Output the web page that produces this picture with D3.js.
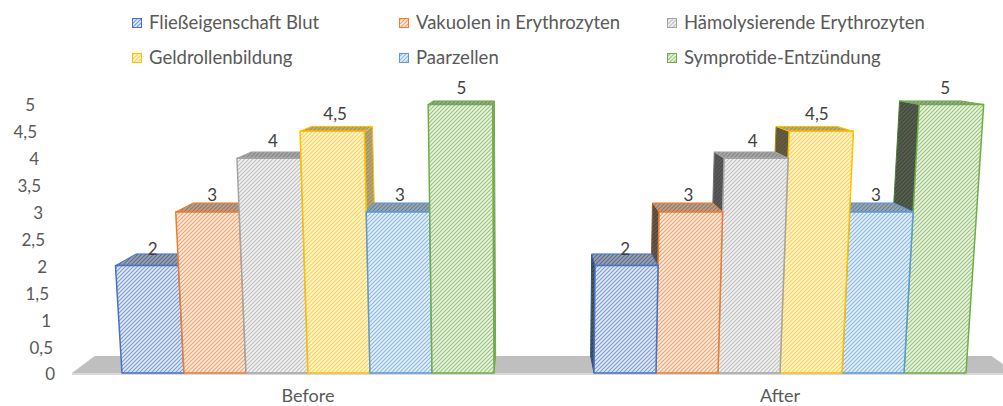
<!DOCTYPE html>
<html><head><meta charset="utf-8">
<script src="https://cdn.jsdelivr.net/npm/d3@7"></script>
<style>
body{margin:0;background:#fff}
text{font-family:Lato,"Open Sans",sans-serif}
</style></head><body>
<script>
// chart data
const groups = ["Before", "After"];
const series = ["Fließeigenschaft Blut", "Vakuolen in Erythrozyten", "Hämolysierende Erythrozyten",
                "Geldrollenbildung", "Paarzellen", "Symprotide-Entzündung"];
const colors = ["#4472C4", "#ED7D31", "#A5A5A5", "#FFC000", "#5B9BD5", "#70AD47"];
const valuesBefore = [2, 3, 4, 4.5, 3, 5];
const valuesAfter = [2, 3, 4, 4.5, 3, 5];
const tickValues = [0, 0.5, 1, 1.5, 2, 2.5, 3, 3.5, 4, 4.5, 5];

const width = 1003, height = 406;
const de = d3.formatLocale({decimal: ",", thousands: ".", grouping: [3], currency: ["", " €"]});
const fmt = de.format("~g");

const svg = d3.select("body").append("svg")
  .attr("width", width).attr("height", height);

// scales (front plane)
const x = d3.scaleBand().domain(groups).range([72, 1016]);
const xs = d3.scaleBand().domain(series).range([50, 422]);
const y = d3.scaleLinear().domain([0, 5]).range([373, 104.5]);
const yAxisScale = d3.scaleLinear().domain([0, 5]).range([375, 106]);

// simple perspective: keystone for camera tilt + depth toward a vanishing point
const ox = 527, yh = 33, depthK = 0.05, keystone = 0.00015, base = 373;
function proj(px, v, z) {
  const y0 = y(v);
  const sx = ox + (px - ox) * (1 + keystone * (base - y0));
  const f = 1 - depthK * z;
  return [ox + (sx - ox) * f, yh + (y0 - yh) * f];
}
const poly = pts => "M" + pts.map(p => p.join(",")).join("L") + "Z";

// hatch patterns
const defs = svg.append("defs");
colors.forEach((c, i) => {
  const p = defs.append("pattern").attr("id", "hatch" + i)
    .attr("patternUnits", "userSpaceOnUse").attr("width", 4).attr("height", 4);
  p.append("rect").attr("width", 4).attr("height", 4)
    .attr("fill", d3.interpolateRgb("#fff", c)(0.15));
  p.append("path").attr("d", "M-1,1L1,-1M0,4L4,0M3,5L5,3")
    .attr("stroke", d3.interpolateRgb("#fff", c)(0.7)).attr("stroke-width", 1.2);
});

// floor
svg.append("path")
  .attr("d", poly([proj(x.range()[0], 0, 0), proj(x.range()[1], 0, 0), proj(x.range()[1], 0, 1), proj(x.range()[0], 0, 1)]))
  .attr("fill", "#bfbfbf");
svg.append("rect").attr("x", x.range()[0]).attr("y", base).attr("width", width).attr("height", 2)
  .attr("fill", "#d9d9d9");

// bars
const bars = [];
groups.forEach((g, gi) => {
  const vals = gi === 0 ? valuesBefore : valuesAfter;
  series.forEach((s, si) => {
    const x0 = x(g) + xs(s), x1 = x0 + xs.bandwidth();
    bars.push({g, s, si, v: vals[si], x0, x1});
  });
});
bars.sort((a, b) => Math.abs((b.x0 + b.x1) / 2 - ox) - Math.abs((a.x0 + a.x1) / 2 - ox));

bars.forEach(d => {
  const c = colors[d.si];
  const fill = "url(#hatch" + d.si + ")";
  const gBar = svg.append("g");
  const faces = [];
  if (d.x1 < ox) faces.push({pts: [proj(d.x1, 0, 0), proj(d.x1, d.v, 0), proj(d.x1, d.v, 1), proj(d.x1, 0, 1)], shade: 0.32});
  if (d.x0 > ox) faces.push({pts: [proj(d.x0, 0, 0), proj(d.x0, d.v, 0), proj(d.x0, d.v, 1), proj(d.x0, 0, 1)], shade: 0.62});
  faces.push({pts: [proj(d.x0, d.v, 0), proj(d.x1, d.v, 0), proj(d.x1, d.v, 1), proj(d.x0, d.v, 1)], shade: 0.3});
  faces.push({pts: [proj(d.x0, 0, 0), proj(d.x1, 0, 0), proj(d.x1, d.v, 0), proj(d.x0, d.v, 0)], shade: 0});
  faces.forEach(f => {
    gBar.append("path").attr("d", poly(f.pts)).attr("fill", fill);
    if (f.shade > 0)
      gBar.append("path").attr("d", poly(f.pts)).attr("fill", "#000").attr("fill-opacity", f.shade);
    gBar.append("path").attr("d", poly(f.pts)).attr("fill", "none")
      .attr("stroke", f.shade > 0.5 ? d3.color(c).darker(1) : c)
      .attr("stroke-width", f.shade === 0 ? 1.5 : 1).attr("stroke-linejoin", "round");
  });
});

// data labels
bars.forEach(d => {
  const cx = (d.x0 + d.x1) / 2;
  const p = proj(cx, d.v, 0.3);
  svg.append("text").attr("x", p[0]).attr("y", y(d.v) - 11)
    .attr("text-anchor", "middle").attr("font-size", 17).attr("fill", "#404040")
    .text(fmt(d.v));
});

// value axis (on the slanted side wall)
const yAxis = svg.append("g").attr("class", "y-axis")
  .call(d3.axisLeft(yAxisScale).tickValues(tickValues).tickFormat(fmt).tickSize(0).tickPadding(0));
yAxis.select(".domain").remove();
yAxis.selectAll(".tick")
  .attr("transform", t => "translate(" + (55 - 20 * (375 - yAxisScale(t)) / 269) + "," + yAxisScale(t) + ")");
yAxis.selectAll("text").attr("font-size", 17).attr("fill", "#595959").attr("font-family", null);

// category axis
const xAxis = svg.append("g").attr("transform", "translate(0,389)")
  .call(d3.axisBottom(x).tickSize(0).tickPadding(0));
xAxis.select(".domain").remove();
xAxis.selectAll("text").attr("font-size", 18).attr("fill", "#595959").attr("font-family", null);

// legend
const legX = [132, 399, 667], legY = [18, 53];
const legend = svg.append("g").attr("id", "legend");
series.forEach((s, i) => {
  const lx = legX[i % 3], ly = legY[Math.floor(i / 3)];
  legend.append("rect").attr("x", lx + 0.5).attr("y", ly + 0.5).attr("width", 9).attr("height", 9)
    .attr("fill", "url(#hatch" + i + ")").attr("stroke", colors[i]);
  legend.append("text").attr("x", lx + 17).attr("y", ly + 11)
    .attr("font-size", 18.5).attr("fill", "#595959").text(s);
});
</script>
</body></html>
